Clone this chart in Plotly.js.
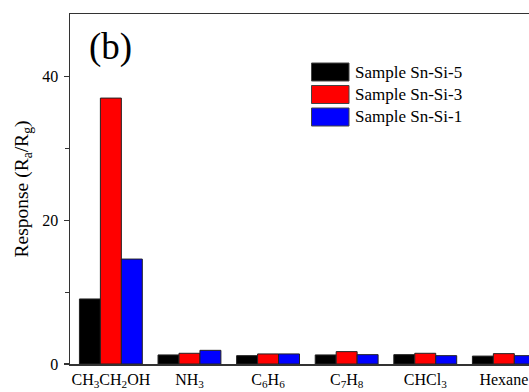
<!DOCTYPE html>
<html>
<head>
<meta charset="utf-8">
<script src="https://cdn.plot.ly/plotly-3.0.1.min.js"></script>
<style>html,body{margin:0;padding:0;background:#fff;}#chart{width:529px;height:392px;}</style>
</head>
<body>
<div id="chart"></div>
<script>
const categories = ["CH<sub>3</sub>CH<sub>2</sub>OH", "NH<sub>3</sub>", "C<sub>6</sub>H<sub>6</sub>", "C<sub>7</sub>H<sub>8</sub>", "CHCl<sub>3</sub>", "Hexane"];
const seriesNames = ["Sample Sn-Si-5", "Sample Sn-Si-3", "Sample Sn-Si-1"];
const snSi5 = [9.05, 1.26, 1.16, 1.26, 1.3, 1.1];
const snSi3 = [37.0, 1.49, 1.4, 1.72, 1.49, 1.44];
const snSi1 = [14.6, 1.9, 1.4, 1.3, 1.16, 1.16];
const colors = ["#000000", "#ff0000", "#0000ff"];
const panelLabel = "(b)";
const yTitle = "Response (R<sub>a</sub>/R<sub>g</sub>)";

const font = "'Liberation Serif', 'Times New Roman', serif";
const values = [snSi5, snSi3, snSi1];
const traces = values.map((v, i) => ({
  type: "bar",
  x: categories,
  y: v,
  name: seriesNames[i],
  marker: {color: colors[i], line: {color: "#222", width: 1}},
  showlegend: false,
  hoverinfo: "x+y+name"
}));

// custom legend (large swatches)
const shapes = [];
const annotations = [{
  text: panelLabel, xref: "paper", yref: "paper", x: 0.038, y: 0.905,
  xanchor: "left", yanchor: "middle", showarrow: false,
  font: {family: font, size: 37, color: "#000"}
}];
const rowY = [72, 94.5, 117];
const plotL = 70, plotW = 459, plotB = 364, plotH = 350;
seriesNames.forEach((n, i) => {
  const yc = rowY[i];
  shapes.push({
    type: "rect", xref: "paper", yref: "paper",
    x0: (311.5 - plotL) / plotW, x1: (349 - plotL) / plotW,
    y0: (plotB - (yc - 9)) / plotH, y1: (plotB - (yc + 9)) / plotH,
    fillcolor: colors[i], line: {color: "#444", width: 1}
  });
  annotations.push({
    text: n, xref: "paper", yref: "paper",
    x: (353 - plotL) / plotW, y: (plotB - yc) / plotH,
    xanchor: "left", yanchor: "middle", showarrow: false,
    font: {family: font, size: 17, color: "#000"}
  });
});

const layout = {
  width: 529, height: 392,
  margin: {l: 70, r: 0, t: 14, b: 28, pad: 0},
  paper_bgcolor: "#fff", plot_bgcolor: "#fff",
  barmode: "group", bargap: 0.2, bargroupgap: 0,
  font: {family: font, color: "#000"},
  showlegend: false,
  xaxis: {
    range: [-0.52, 5.32], showgrid: false, zeroline: false,
    showline: true, linecolor: "#333", linewidth: 1.5, mirror: true,
    ticks: "", tickfont: {family: font, size: 16, color: "#000"},
    automargin: false
  },
  yaxis: {
    range: [0, 48.7], showgrid: false, zeroline: false,
    showline: true, linecolor: "#333", linewidth: 1.5,
    ticks: "outside", ticklen: 5, tickwidth: 1.2, tickcolor: "#333",
    ticklabelstandoff: 2,
    tickvals: [0, 20, 40],
    minor: {tickvals: [10, 30], ticks: "outside", ticklen: 4, tickwidth: 1.2, tickcolor: "#333"},
    tickfont: {family: font, size: 16, color: "#000"},
    title: {text: yTitle, font: {family: font, size: 19.5, color: "#000"}, standoff: 8},
    automargin: false
  },
  shapes: shapes,
  annotations: annotations
};

Plotly.newPlot("chart", traces, layout, {displayModeBar: false, staticPlot: true});
</script>
</body>
</html>
